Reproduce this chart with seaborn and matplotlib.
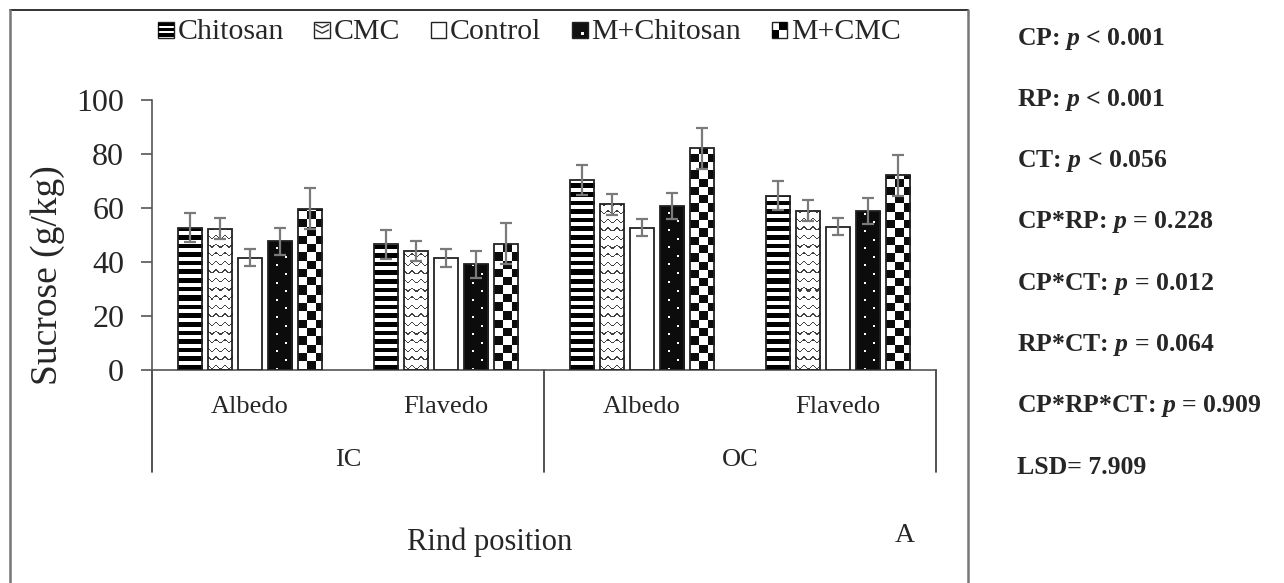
import numpy as np
import pandas as pd
import matplotlib
matplotlib.use("Agg")
import matplotlib.pyplot as plt
from matplotlib.patches import Rectangle
from matplotlib.legend_handler import HandlerBase
from matplotlib.lines import Line2D
import matplotlib.transforms as mtransforms
import seaborn as sns

# ---------------- data ----------------
positions = ["Albedo", "Flavedo", "Albedo", "Flavedo"]
canopy = ["IC", "IC", "OC", "OC"]
treatments = ["Chitosan", "CMC", "Control", "M+Chitosan", "M+CMC"]
chitosan = [52.7, 46.5, 70.4, 64.6]
cmc = [52.4, 44.0, 61.3, 59.0]
control = [41.6, 41.5, 52.7, 53.1]
m_chitosan = [47.6, 39.1, 60.8, 58.8]
m_cmc = [59.8, 46.8, 82.2, 72.1]
errors = [5.4, 3.8, 3.2, 4.9, 7.6]
y_ticks = [0, 20, 40, 60, 80, 100]
stats_lines = [
    "CP: $p$ < 0.001",
    "RP: $p$ < 0.001",
    "CT: $p$ < 0.056",
    "CP*RP: $p$ = 0.228",
    "CP*CT: $p$ = 0.012",
    "RP*CT: $p$ = 0.064",
    "CP*RP*CT: $p$ = 0.909",
    "LSD= 7.909",
]

series = [chitosan, cmc, control, m_chitosan, m_cmc]
groups = [f"{c} {p}" for c, p in zip(canopy, positions)]
df = pd.DataFrame(
    [(g, t, v) for t, vals in zip(treatments, series) for g, v in zip(groups, vals)],
    columns=["group", "treatment", "sucrose"],
)

# ---------------- style ----------------
sns.set_style("white")
plt.rcParams["font.family"] = ["Liberation Serif", "DejaVu Serif"]
plt.rcParams["mathtext.fontset"] = "custom"
plt.rcParams["mathtext.it"] = "Liberation Serif:italic:bold"
plt.rcParams["mathtext.rm"] = "Liberation Serif:bold"

W, H, DPI = 1284, 583, 100
fig = plt.figure(figsize=(W / DPI, H / DPI), dpi=DPI)
ax = fig.add_axes([152 / W, 1 - 370 / H, (936 - 152) / W, 270 / H])

sns.barplot(
    data=df, x="group", y="sucrose", hue="treatment",
    order=groups, hue_order=treatments,
    palette=["white"] * 5, width=0.77, gap=0.2,
    errorbar=None, legend=False, ax=ax,
)

ax.set_xlim(-0.5, 3.5)
ax.set_ylim(0, 100)


# ---------------- fill textures ----------------
def texture(kind, w, h):
    yy, xx = np.mgrid[0:h, 0:w]
    img = np.ones((h, w))
    if kind == "stripes":
        img[(yy % 8.6) < 4.6] = 0.0
    elif kind == "zigzag":
        per_x, per_y = 8.0, 8.6
        tri = np.abs(((xx + 0.5) % per_x) - per_x / 2)
        d = (yy - tri * 0.9) % per_y
        img[(d < 1.3)] = 0.25
    elif kind == "dots":
        img[:] = 0.05
        img[((np.abs(xx - w * 0.35) < 1) & ((yy % 17.2) < 2))] = 1.0
        img[((np.abs(xx - w * 0.68) < 1) & (((yy + 8.6) % 17.2) < 2))] = 1.0
    elif kind == "checker":
        img = (((xx // 8.3).astype(int) + (yy // 8.3).astype(int)) % 2).astype(float)
        img = np.where(img > 0, 0.05, 1.0)
    return img


kinds = ["stripes", "zigzag", None, "dots", "checker"]
fig.canvas.draw()
renderer = fig.canvas.get_renderer()
for cont, kind in zip(ax.containers, kinds):
    for bar in cont:
        bar.set_edgecolor("#222222")
        bar.set_linewidth(1.3)
        bar.set_zorder(3)
        if kind is None:
            bar.set_facecolor("white")
            continue
        bar.set_facecolor("none")
        bb = bar.get_window_extent(renderer)
        w_px = max(int(round(bb.width)), 1)
        h_px = max(int(round(bb.height)), 1)
        img = texture(kind, w_px, h_px)
        x0 = bar.get_x()
        im = ax.imshow(
            img, cmap="gray", vmin=0, vmax=1, origin="lower",
            extent=(x0, x0 + bar.get_width(), 0, bar.get_height()),
            aspect="auto", interpolation="nearest", zorder=2,
        )
        im.set_clip_path(bar)

ax.set_xlim(-0.5, 3.5)
ax.set_ylim(0, 100)

# error bars at the bar centres
for cont, vals, err in zip(ax.containers, series, errors):
    xs = [b.get_x() + b.get_width() / 2 for b in cont]
    ax.errorbar(xs, vals, yerr=err, fmt="none", ecolor="#7a7a7a",
                elinewidth=1.6, capsize=4.5, capthick=1.6, zorder=4)

# ---------------- axes ----------------
for s in ["top", "right"]:
    ax.spines[s].set_visible(False)
for s in ["left", "bottom"]:
    ax.spines[s].set_color("#555555")
    ax.spines[s].set_linewidth(1.2)
ax.set_yticks(y_ticks)
ax.tick_params(axis="y", length=8, width=1.2, color="#555555", labelsize=23, pad=12, direction="out", left=True)
ax.set_xticks(range(len(groups)))
ax.set_xticklabels(positions, fontsize=19)
ax.tick_params(axis="x", length=0, pad=19)
ax.set_xlabel("")
ax.set_ylabel("Sucrose (g/kg)", fontsize=27)
ax.yaxis.set_label_coords(-0.111, 0.35)

trans = mtransforms.blended_transform_factory(ax.transData, ax.transAxes)
for xv in [-0.5, 1.5, 3.5]:
    ax.add_line(Line2D([xv, xv], [0, -0.378], transform=trans, color="#333333",
                       lw=1.2, clip_on=False))
for xc, lab in [(0.5, "IC"), (2.5, "OC")]:
    ax.text(xc, -0.335, lab, transform=trans, ha="center", va="center", fontsize=19)

fig.text(490 / W, 1 - 542 / H, "Rind position", ha="center", va="center", fontsize=22)
fig.text(905 / W, 1 - 535 / H, "A", ha="center", va="center", fontsize=20)

# statistics panel
for i, line in enumerate(stats_lines):
    fig.text(1017 / W, 1 - (38.5 + i * 61.3) / H, line, ha="left", va="center",
             fontsize=18.5, fontweight="bold")

# outer frame
fig.add_artist(Line2D([10 / W, 968 / W], [1 - 10 / H, 1 - 10 / H], transform=fig.transFigure, color="#222222", lw=1.3))
fig.add_artist(Line2D([10 / W, 10 / W], [1 - 10 / H, 0], transform=fig.transFigure, color="#777777", lw=1.8))
fig.add_artist(Line2D([968 / W, 968 / W], [1 - 10 / H, 0], transform=fig.transFigure, color="#777777", lw=1.8))


# ---------------- legend ----------------
class PatternHandler(HandlerBase):
    def __init__(self, kind):
        super().__init__()
        self.kind = kind

    def create_artists(self, legend, orig_handle, xd, yd, width, height, fontsize, trans):
        s = height * 0.75
        x0 = -xd + width - s
        y0 = -yd + (height - s) / 2 - height * 0.05
        arts = [Rectangle((x0, y0), s, s, facecolor="white", edgecolor="#222222", lw=1.0, transform=trans)]
        k = self.kind
        if k == "stripes":
            for j in range(3):
                arts.append(Rectangle((x0, y0 + s * (0.08 + j * 0.33)), s, s * 0.2, facecolor="black", lw=0, transform=trans))
        elif k == "zigzag":
            for j in range(2):
                yb = y0 + s * (0.3 + j * 0.35)
                arts.append(Line2D([x0 + s * 0.1, x0 + s * 0.5, x0 + s * 0.9], [yb + s * 0.2, yb, yb + s * 0.2],
                                   color="#333333", lw=1.0, transform=trans))
        elif k == "dots":
            arts[0].set_facecolor("#111111")
            arts.append(Rectangle((x0 + s * 0.6, y0 + s * 0.2), s * 0.15, s * 0.15, facecolor="white", lw=0, transform=trans))
        elif k == "checker":
            arts.append(Rectangle((x0, y0), s * 0.5, s * 0.5, facecolor="black", lw=0, transform=trans))
            arts.append(Rectangle((x0 + s * 0.5, y0 + s * 0.5), s * 0.5, s * 0.5, facecolor="black", lw=0, transform=trans))
        return arts


handles = [Rectangle((0, 0), 1, 1, label=t) for t in treatments]
hmap = {h: PatternHandler(k) for h, k in zip(handles, kinds)}
fig.legend(handles=handles, labels=treatments, handler_map=hmap, loc="center",
           bbox_to_anchor=(529 / W, 1 - 32 / H), ncol=5, frameon=False, fontsize=21.5,
           handlelength=0.55, handleheight=0.7, handletextpad=0.12, columnspacing=1.0)

fig.savefig("out.png", dpi=DPI)
